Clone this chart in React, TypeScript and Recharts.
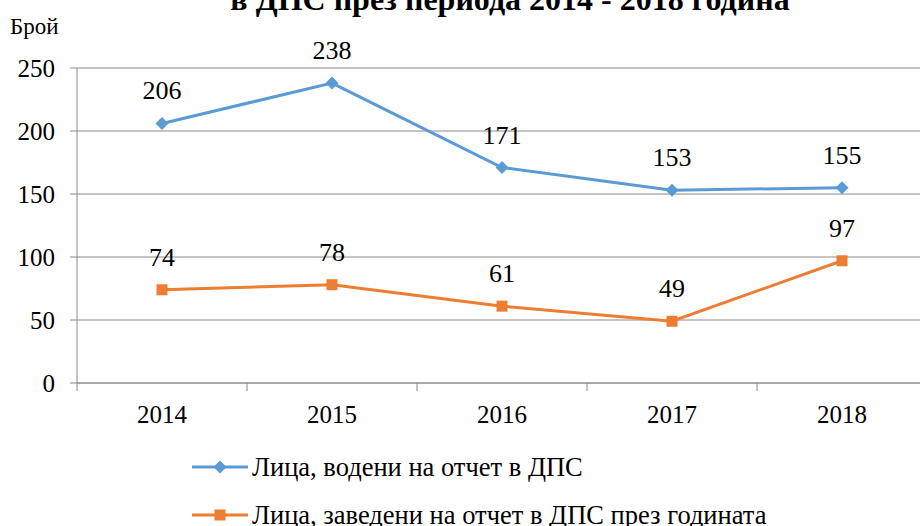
import React from "react";
import { LineChart, Line, XAxis, YAxis, CartesianGrid, Legend, LabelList } from "recharts";

const years = ["2014", "2015", "2016", "2017", "2018"];
const tracked = [206, 238, 171, 153, 155];
const registered = [74, 78, 61, 49, 97];
const yTicks = [0, 50, 100, 150, 200, 250];

const seriesNames = {
  tracked: "Лица, водени на отчет в ДПС",
  registered: "Лица, заведени на отчет в ДПС през годината",
};

const data = years.map((year, i) => ({
  year,
  tracked: tracked[i],
  registered: registered[i],
}));

const FONT = '"Liberation Serif", "Times New Roman", serif';
const BLUE = "#5B9BD5";
const ORANGE = "#ED7D31";
const GRID = "#8a8a8a";
const BAND = 170;

const Diamond = (props: any) => {
  const { cx, cy, fill } = props;
  if (cx == null || cy == null) return null;
  const r = 6.5;
  return <path d={`M${cx},${cy - r}L${cx + r},${cy}L${cx},${cy + r}L${cx - r},${cy}Z`} fill={fill} />;
};

const Square = (props: any) => {
  const { cx, cy, fill } = props;
  if (cx == null || cy == null) return null;
  const s = 11;
  return <rect x={cx - s / 2} y={cy - s / 2} width={s} height={s} fill={fill} />;
};

const YearTick = (props: any) => {
  const { x, y, payload, index } = props;
  return (
    <g>
      <line x1={x - BAND / 2} y1={y} x2={x - BAND / 2} y2={y + 8} stroke={GRID} />
      {index === years.length - 1 && <line x1={x + BAND / 2} y1={y} x2={x + BAND / 2} y2={y + 8} stroke={GRID} />}
      <text x={x} y={y + 40} textAnchor="middle" fontSize={25} fill="#000">
        {payload.value}
      </text>
    </g>
  );
};

const LegendContent = () => {
  const rows = [
    { name: seriesNames.tracked, color: BLUE, shape: "diamond" },
    { name: seriesNames.registered, color: ORANGE, shape: "square" },
  ];
  return (
    <div>
      {rows.map((r) => (
        <div key={r.name} style={{ display: "flex", alignItems: "center", height: 48 }}>
          <svg width={60} height={20}>
            <line x1={0} y1={10} x2={56} y2={10} stroke={r.color} strokeWidth={3} />
            {r.shape === "diamond" ? <Diamond cx={28} cy={10} fill={r.color} /> : <Square cx={28} cy={10} fill={r.color} />}
          </svg>
          <span style={{ fontSize: 26.5, color: "#000", whiteSpace: "nowrap" }}>{r.name}</span>
        </div>
      ))}
    </div>
  );
};

export default function App() {
  return (
    <div style={{ position: "absolute", left: 0, top: 0, width: 920, height: 526, overflow: "hidden", background: "#fff" }}>
      <style>{`#root, #root * { font-family: ${FONT} !important; }`}</style>
      <div
        style={{
          position: "absolute",
          left: 0,
          top: -16,
          width: 1020,
          textAlign: "center",
          fontWeight: "bold",
          fontSize: 32,
          lineHeight: "30px",
          whiteSpace: "nowrap",
        }}
      >
        в ДПС през периода 2014 - 2018 година
      </div>
      <LineChart width={930} height={526} data={data} margin={{ top: 68, right: 3, bottom: 103, left: 0 }}>
        <CartesianGrid vertical={false} stroke={GRID} />
        <XAxis
          dataKey="year"
          padding={{ left: BAND / 2, right: BAND / 2 }}
          axisLine={{ stroke: GRID }}
          tickLine={false}
          tickSize={0}
          tickMargin={0}
          height={40}
          tick={<YearTick />}
          interval={0}
        />
        <YAxis
          width={77}
          domain={[0, 250]}
          ticks={yTicks}
          axisLine={{ stroke: GRID }}
          tickLine={{ stroke: GRID }}
          tickSize={7}
          tickMargin={15}
          tick={{ fontSize: 25, fill: "#000" }}
          label={(p: any) => (
            <text x={10} y={(p.viewBox?.y ?? 68) - 34} fontSize={23} fill="#000">
              Брой
            </text>
          )}
        />
        <Legend
          layout="vertical"
          align="center"
          verticalAlign="middle"
          wrapperStyle={{ left: 192, top: 443, width: 720 }}
          content={<LegendContent />}
        />
        <Line
          dataKey="tracked"
          name={seriesNames.tracked}
          stroke={BLUE}
          strokeWidth={3}
          dot={<Diamond fill={BLUE} />}
          activeDot={false}
          isAnimationActive={false}
        >
          <LabelList dataKey="tracked" position="top" offset={24} fontSize={26} fill="#000" />
        </Line>
        <Line
          dataKey="registered"
          name={seriesNames.registered}
          stroke={ORANGE}
          strokeWidth={3}
          dot={<Square fill={ORANGE} />}
          activeDot={false}
          isAnimationActive={false}
        >
          <LabelList dataKey="registered" position="top" offset={24} fontSize={26} fill="#000" />
        </Line>
      </LineChart>
    </div>
  );
}
